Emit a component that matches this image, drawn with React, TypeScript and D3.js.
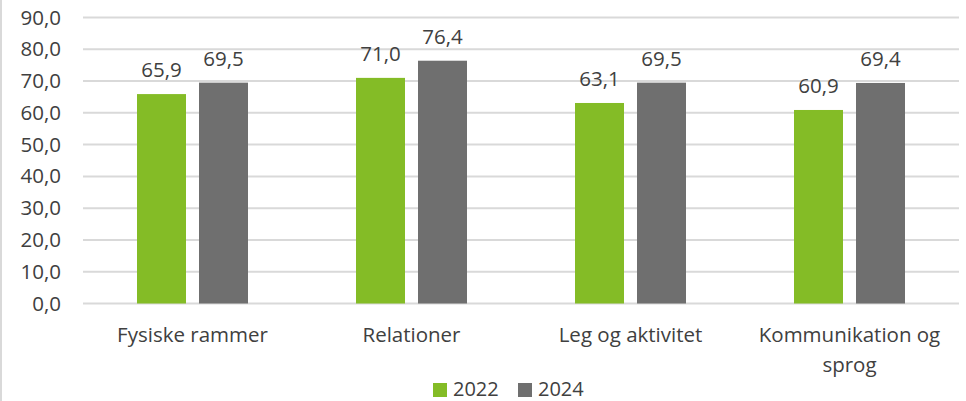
import React from "react";
import * as d3 from "d3";

const categories = ["Fysiske rammer", "Relationer", "Leg og aktivitet", "Kommunikation og sprog"];
const series = ["2022", "2024"];
const values2022 = [65.9, 71.0, 63.1, 60.9];
const values2024 = [69.5, 76.4, 69.5, 69.4];
const yTicks = [0, 10, 20, 30, 40, 50, 60, 70, 80, 90];
const colors = ["#84BC26", "#6F6F6F"];

const W = 966, H = 401;
const FONT = "'Open Sans', sans-serif";
const TXT = "#404040";

export default function App() {
  const x = d3.scaleBand<string>().domain(categories).range([83, 959]).paddingInner(0).paddingOuter(0);
  const y = d3.scaleLinear().domain([0, 90]).range([303.5, 17.5]);
  const x1 = d3.scaleBand<string>().domain(series).range([0, 111]).paddingInner(13 / 62).paddingOuter(0);
  const data = [values2022, values2024];
  const fmt = (v: number) => v.toFixed(1).replace(".", ",");
  const wrap = (c: string) => (c === "Kommunikation og sprog" ? ["Kommunikation og", "sprog"] : [c]);

  return (
    <svg width={W} height={H} style={{ position: "absolute", left: 0, top: 0, fontFamily: FONT }}>
      <rect x={0} y={0} width={W} height={H} fill="#fff" />
      <line x1={1} x2={1} y1={0} y2={H} stroke="#d9d9d9" strokeWidth={2} />
      {yTicks.map((t) => (
        <g key={t}>
          <line x1={83} x2={959} y1={y(t)} y2={y(t)} stroke="#d9d9d9" strokeWidth={2} />
          <text x={61} y={y(t) + 7} textAnchor="end" fontSize={20.5} fill={TXT}>{fmt(t)}</text>
        </g>
      ))}
      {categories.map((c, i) => {
        const g0 = (x(c) as number) + x.bandwidth() / 2 - 55.5;
        return (
          <g key={c}>
            {series.map((s, j) => {
              const v = data[j][i];
              const bx = g0 + (x1(s) as number);
              return (
                <g key={s}>
                  <rect x={bx} y={y(v)} width={x1.bandwidth()} height={y(0) - y(v)} fill={colors[j]} />
                  <text x={bx + x1.bandwidth() / 2} y={y(v) - 17} textAnchor="middle" fontSize={20.5} fill={TXT}>{fmt(v)}</text>
                </g>
              );
            })}
            {wrap(c).map((ln, k) => (
              <text key={k} x={(x(c) as number) + x.bandwidth() / 2} y={342 + k * 30} textAnchor="middle" fontSize={20.5} fill={TXT}>{ln}</text>
            ))}
          </g>
        );
      })}
      {series.map((s, j) => {
        const lx = j === 0 ? 433 : 518;
        return (
          <g key={s}>
            <rect x={lx} y={383} width={14} height={14} fill={colors[j]} />
            <text x={lx + 20} y={396} fontSize={20} fill={TXT}>{s}</text>
          </g>
        );
      })}
    </svg>
  );
}
